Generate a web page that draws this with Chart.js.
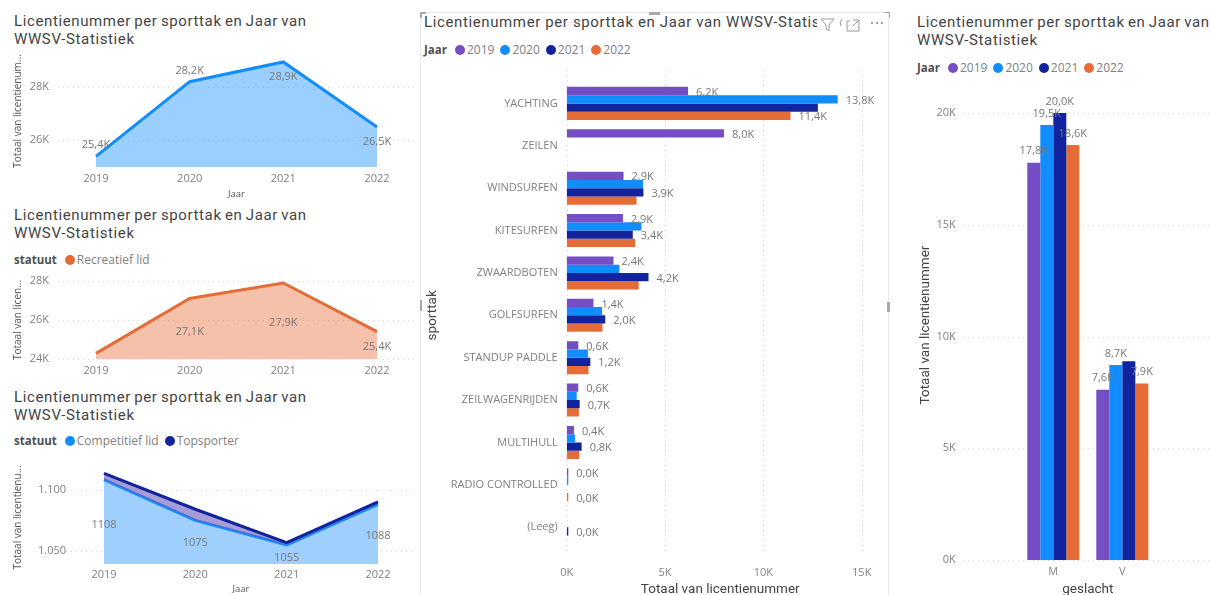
<!DOCTYPE html>
<html><head><meta charset="utf-8">
<script src="https://cdn.jsdelivr.net/npm/chart.js@4/dist/chart.umd.min.js"></script>
<style>
html,body{margin:0;padding:0;background:#fff;width:1211px;height:595px;overflow:hidden;position:relative}
canvas{position:absolute}
.title{position:absolute;font:15px/18px Roboto,sans-serif;letter-spacing:.62px;word-spacing:-1px;color:#444;white-space:pre;overflow:hidden}
.legend{position:absolute;display:flex;align-items:center;font:12px/14px "Open Sans",sans-serif;color:#808080;white-space:nowrap}
.legend b{color:#505050;margin-right:8px;font-size:11.5px}
.legend i{display:inline-block;width:10px;height:10px;border-radius:50%;margin-right:2px}
.legend span{margin-right:6px}
.frame{position:absolute;left:420px;top:12px;width:469px;height:590px;border:1px solid #e8e8e8;box-sizing:border-box}
.mark{position:absolute;background:#aaa}
svg.icons{position:absolute;left:820px;top:12px}
</style></head><body>
<div class="frame"></div>
<div class="mark" style="left:420px;top:12px;width:6px;height:2px"></div>
<div class="mark" style="left:420px;top:12px;width:2px;height:6px"></div>
<div class="mark" style="left:649px;top:12px;width:11px;height:3px"></div>
<div class="mark" style="left:420px;top:300px;width:2px;height:11px"></div>
<div class="mark" style="left:887px;top:302px;width:3px;height:10px"></div>
<div class="mark" style="left:884px;top:12px;width:6px;height:1px"></div>
<div class="mark" style="left:889px;top:12px;width:1px;height:6px"></div>
<svg class="icons" width="68" height="24" fill="none" stroke="#999" stroke-width="1">
<path d="M1 7H14L9 13V19L6 17V13Z"/><path d="M22 7Q19 10 21 14"/>
<path d="M27 9V19H39V13M33 8H39V13M39 8L33 14M27 9H30"/>
<circle cx="52" cy="11" r=".8" fill="#999"/><circle cx="57" cy="11" r=".8" fill="#999"/><circle cx="62" cy="11" r=".8" fill="#999"/>
</svg>
<script>
const years = ['2019','2020','2021','2022'];
const totalValues = [25400,28200,28940,26500];
const totalTicks = [26000,28000];
const recreatiefValues = [24290,27100,27900,25400];
const recreatiefTicks = [24000,26000,28000];
const competitiefValues = [1108,1075,1055,1088];
const topsporterValues = [1113,1084,1057,1090];
const statuutTicks = [1050,1100];
const sports = ['YACHTING','ZEILEN','WINDSURFEN','KITESURFEN','ZWAARDBOTEN','GOLFSURFEN','STANDUP PADDLE','ZEILWAGENRIJDEN','MULTIHULL','RADIO CONTROLLED','(Leeg)'];
const sport2019 = [6170,8000,2890,2860,2380,1360,590,590,370,45,null];
const sport2020 = [13780,null,3880,3800,2680,1800,1080,510,420,45,null];
const sport2021 = [12770,null,3900,3360,4160,1960,1200,660,760,null,45];
const sport2022 = [11380,null,3550,3480,3660,1820,1110,620,640,45,null];
const sportShown2019 = [1,1,1,1,1,1,1,1,1,1,0];
const sportShown2020 = [1,0,0,0,0,0,0,0,0,0,0];
const sportShown2021 = [0,0,1,1,1,1,1,1,1,0,1];
const sportShown2022 = [1,0,0,0,0,0,0,0,0,1,0];
const sportTicks = [0,5000,10000,15000];
const genders = ['M','V'];
const gender2019 = [17780,7620];
const gender2020 = [19460,8720];
const gender2021 = [20000,8890];
const gender2022 = [18570,7900];
const genderShown2021 = [1,0];
const genderTicks = [0,5000,10000,15000,20000];
const titleText = 'Licentienummer per sporttak en Jaar van';
const titleText2 = 'WWSV-Statistiek';
const centerTitle = 'Licentienummer per sporttak en Jaar van WWSV-Statis';
const legendYear = 'Jaar', legendStatus = 'statuut';

const PURPLE='#744EC2', BLUE='#118DFF', NAVY='#12239E', ORANGE='#E66C37';
const SANS='"Open Sans",sans-serif', HEAD='Roboto,sans-serif';
const TICK='#808080', DARK='#555';
Chart.defaults.animation=false;
Chart.defaults.font.family=SANS;
Chart.defaults.plugins.legend.display=false;
Chart.defaults.plugins.title.display=false;
Chart.defaults.plugins.tooltip.enabled=false;

const kFmt = v => (v/1000).toFixed(1).replace('.',',')+'K';
const kTick = v => Math.round(v/1000)+'K';
const dotTick = v => String(v).replace(/(\d)(\d{3})$/,'$1.$2');

const extGrid = { id:'extGrid', beforeDatasetsDraw(c,_,o){
  const s=c.scales[o.axis], ctx=c.ctx; ctx.save();
  ctx.strokeStyle='#d4d4d4'; ctx.lineWidth=1; ctx.setLineDash([1,4]);
  o.values.forEach(v=>{ const p=Math.round(s.getPixelForValue(v))+.5; ctx.beginPath();
    if(o.axis==='y'){ctx.moveTo(o.from,p);ctx.lineTo(o.to,p);} else {ctx.moveTo(p,o.from);ctx.lineTo(p,o.to);} ctx.stroke(); });
  ctx.restore(); }};

const valueLabels = { id:'valueLabels', afterDatasetsDraw(c,_,o){
  const ctx=c.ctx; ctx.save(); ctx.font='11px '+SANS; ctx.fillStyle='#777'; ctx.textBaseline='middle';
  o.rules.forEach(r=>{ const meta=c.getDatasetMeta(r.dataset), ds=c.data.datasets[r.dataset];
    meta.data.forEach((el,i)=>{ const v=ds.data[i]; if(v==null) return;
      if(r.shown && !r.shown[i]) return; if(r.dy && r.dy[i]==null) return;
      if(r.dy && !r.side){ctx.textAlign='center';ctx.fillText(o.fmt(v),el.x,el.y+r.dy[i]);}
      else if(r.side){ctx.textAlign='left';ctx.fillText(o.fmt(v),Math.max(el.x,c.scales.x.left)+8,el.y+1.5);}
      else {ctx.textAlign='center';ctx.fillText(o.fmt(v),el.x,el.y-11.5);} });
  }); ctx.restore(); }};

function mk(rect,cfg,plot){
  const cv=document.createElement('canvas'); cv.width=rect.w; cv.height=rect.h;
  cv.style.left=rect.x+'px'; cv.style.top=rect.y+'px'; document.body.appendChild(cv);
  cfg.options=cfg.options||{}; cfg.options.responsive=false; cfg.options.devicePixelRatio=1;
  cfg.options.layout={padding:{left:plot.padL||0,top:plot.t-rect.y,right:rect.x+rect.w-plot.r,bottom:plot.padB||0}};
  const s=cfg.options.scales;
  const clearPad=ax=>{ax.paddingTop=0;ax.paddingBottom=0;ax.paddingLeft=0;ax.paddingRight=0;};
  s[plot.valueAxis].afterBuildTicks=ax=>{ax.ticks=plot.ticks.map(v=>({value:v}));};
  s.x.afterFit=ax=>{ax.height=rect.y+rect.h-(plot.padB||0)-plot.b;clearPad(ax);};
  s.y.afterFit=ax=>{ax.width=plot.l-rect.x-(plot.padL||0);clearPad(ax);};
  cfg.plugins=[extGrid,valueLabels];
  return new Chart(cv.getContext('2d'),cfg);
}
function titleDiv(x,y,lines,w){
  const d=document.createElement('div'); d.className='title'; d.style.left=x+'px'; d.style.top=y+'px';
  if(w){d.style.width=w+'px';d.style.wordSpacing='0';} d.textContent=lines.join('\n'); document.body.appendChild(d);
}
function legendDiv(x,y,name,chartObj){
  const d=document.createElement('div'); d.className='legend'; d.style.left=x+'px'; d.style.top=y+'px';
  const b=document.createElement('b'); b.textContent=name; d.appendChild(b);
  chartObj.data.datasets.forEach(ds=>{
    const i=document.createElement('i'); i.style.background=ds.lineColor||ds.backgroundColor; d.appendChild(i);
    const s=document.createElement('span'); s.textContent=ds.label; d.appendChild(s); });
  document.body.appendChild(d);
}
const hidden={display:false};
function yLin(min,max,pad,fmt,title){
  return {type:'linear',min,max,border:hidden,grid:{display:false,drawTicks:false},
    ticks:{padding:pad,color:TICK,font:{size:11},callback:fmt,autoSkip:false},
    title:title?{display:true,text:title,color:DARK,font:{size:10},padding:0}:{display:false}};
}
function xCat(pad,title){
  return {type:'category',offset:false,border:hidden,grid:{display:false,drawTicks:false},
    ticks:{padding:pad,color:TICK,font:{size:11},maxRotation:0,autoSkip:false},
    title:title?{display:true,text:title,color:DARK,font:{size:9.5},padding:0}:{display:false}};
}
function area(label,data,color,fill,extra){
  return Object.assign({label,data,borderColor:color,backgroundColor:fill,fill:'origin',borderWidth:3,pointRadius:0,tension:0,clip:false,lineColor:color,borderJoinStyle:'miter'},extra||{});
}
/* Top-left */
titleDiv(14,12,[titleText,titleText2]);
mk({x:6,y:50,w:414,h:150},{type:'line',data:{labels:years,datasets:[area('Totaal',totalValues,BLUE,'rgba(17,141,255,.42)')]},
 options:{scales:{x:xCat(5,'Jaar'),y:yLin(25000,29200,47,kTick,'Totaal van licentienum...')},
 plugins:{extGrid:{axis:'y',values:totalTicks,from:52,to:409},valueLabels:{fmt:kFmt,rules:[{dataset:0,dy:[-11,-11,15.3,14.7]}]}}}},
 {l:96,r:377,t:55,b:167,valueAxis:'y',ticks:totalTicks,padL:6,padB:0});
/* Middle-left */
titleDiv(14,206,[titleText,titleText2]);
const c2=mk({x:6,y:270,w:414,h:112},{type:'line',data:{labels:years,datasets:[area('Recreatief lid',recreatiefValues,ORANGE,'rgba(230,108,55,.42)')]},
 options:{scales:{x:xCat(5),y:yLin(24000,28000,47,kTick,'Totaal van licen...')},
 plugins:{extGrid:{axis:'y',values:recreatiefTicks,from:52,to:409},valueLabels:{fmt:kFmt,rules:[{dataset:0,dy:[null,33.5,39.5,15.3]}]}}}},
 {l:96,r:377,t:281,b:359,valueAxis:'y',ticks:recreatiefTicks,padL:6,padB:0});
legendDiv(14,253,legendStatus,c2);
/* Bottom-left */
titleDiv(14,388,[titleText,titleText2]);
const c3=mk({x:6,y:460,w:414,h:135},{type:'line',data:{labels:years,datasets:[
   area('Competitief lid',competitiefValues,BLUE,'#9fd0fd',{order:2}),
   area('Topsporter',topsporterValues,NAVY,'rgba(90,70,180,.5)',{order:1,fill:{target:0,above:'rgba(105,90,190,.6)',below:'rgba(105,90,190,.6)'}})]},
 options:{scales:{x:xCat(4,'Jaar'),y:yLin(1039.6,1115,38,dotTick,'Totaal van licentienu...')},
 plugins:{extGrid:{axis:'y',values:statuutTicks,from:60,to:409},valueLabels:{fmt:v=>String(v),rules:[{dataset:0,dy:[45,23,12.7,32]}]}}}},
 {l:104,r:378,t:471,b:564,valueAxis:'y',ticks:statuutTicks,padL:6,padB:0});
legendDiv(14,434,legendStatus,c3);
/* Centre */
titleDiv(424,13,[centerTitle],393);
const bar=(label,data,color)=>({label,data,backgroundColor:color,borderWidth:0,categoryPercentage:.78,barPercentage:1,minBarLength:1.6});
const c4=mk({x:422,y:60,w:466,h:538},{type:'bar',data:{labels:sports,datasets:[
   bar('2019',sport2019,PURPLE),bar('2020',sport2020,BLUE),bar('2021',sport2021,NAVY),bar('2022',sport2022,ORANGE)]},
 options:{indexAxis:'y',scales:{
   x:{type:'linear',min:0,max:15610,border:hidden,grid:{display:false,drawTicks:false},
      ticks:{padding:18,color:TICK,font:{size:11},callback:kTick,autoSkip:false,maxRotation:0},
      title:{display:true,text:'Totaal van licentienummer',color:'#444',font:{family:HEAD,size:13.5},padding:0}},
   y:{type:'category',border:hidden,grid:{display:false,drawTicks:false},
      ticks:{padding:9,color:TICK,font:{size:11},autoSkip:false},
      title:{display:true,text:'sporttak',color:'#444',font:{family:HEAD,size:13.5},padding:0}}},
 plugins:{extGrid:{axis:'x',values:sportTicks,from:10,to:495},valueLabels:{fmt:kFmt,rules:[
   {dataset:0,side:1,shown:sportShown2019},{dataset:1,side:1,shown:sportShown2020},{dataset:2,side:1,shown:sportShown2021},{dataset:3,side:1,shown:sportShown2022}]}}}},
 {l:566.7,r:873.7,t:82.2,b:548.4,valueAxis:'x',ticks:sportTicks,padL:3,padB:0});
legendDiv(424,43,legendYear,c4);
/* Right */
titleDiv(917,13,[titleText,titleText2]);
const barV=(label,data,color)=>({label,data,backgroundColor:color,borderWidth:0,categoryPercentage:.754,barPercentage:1});
const c5=mk({x:918,y:80,w:293,h:518},{type:'bar',data:{labels:genders,datasets:[
   barV('2019',gender2019,PURPLE),barV('2020',gender2020,BLUE),barV('2021',gender2021,NAVY),barV('2022',gender2022,ORANGE)]},
 options:{scales:{
   x:{type:'category',border:hidden,grid:{display:false,drawTicks:false},
      ticks:{padding:5,color:TICK,font:{size:11},autoSkip:false,maxRotation:0},
      title:{display:true,text:'geslacht',color:'#444',font:{family:HEAD,size:13.5},padding:0}},
   y:{type:'linear',min:0,max:21030,border:hidden,grid:{display:false,drawTicks:false},
      ticks:{padding:63,color:TICK,font:{size:11},callback:kTick,autoSkip:false},
      title:{display:true,text:'Totaal van licentienummer',color:'#444',font:{family:HEAD,size:13.5},padding:0}}},
 plugins:{extGrid:{axis:'y',values:genderTicks,from:45,to:293},valueLabels:{fmt:kFmt,rules:[
   {dataset:0},{dataset:1},{dataset:2,shown:genderShown2021},{dataset:3}]}}}},
 {l:1018.8,r:1156.8,t:90,b:560,valueAxis:'y',ticks:genderTicks,padL:0,padB:0});
legendDiv(917,61,legendYear,c5);
</script></body></html>
